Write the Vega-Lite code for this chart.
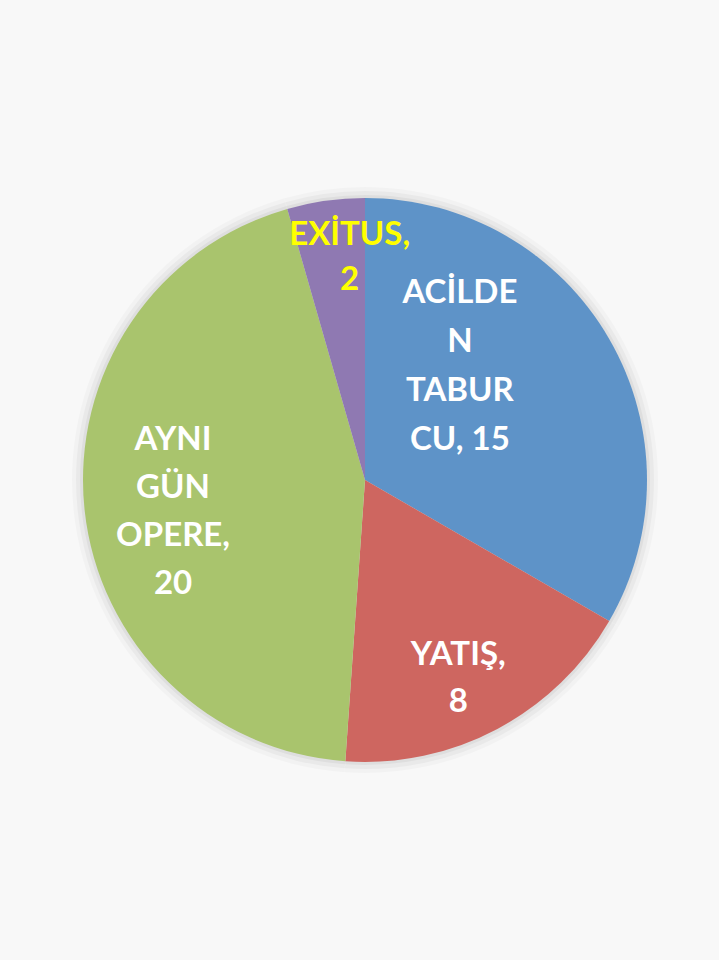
{
  "$schema": "https://vega.github.io/schema/vega-lite/v6.json",
  "autosize": {"type": "fit", "contains": "padding"},
  "width": 719,
  "height": 960,
  "padding": {"left": 11, "right": 0, "top": 0, "bottom": 0},
  "background": "#f8f8f8",
  "config": {"view": {"stroke": null}},
  "data": {
    "values": [
      {"sira": 1, "kategori": "ACİLDEN TABURCU", "sayi": 15, "etiket": "ACİLDE\nN\nTABUR\nCU, 15"},
      {"sira": 2, "kategori": "YATIŞ", "sayi": 8, "etiket": "YATIŞ,\n8"},
      {"sira": 3, "kategori": "AYNI GÜN OPERE", "sayi": 20, "etiket": "AYNI\nGÜN\nOPERE,\n20"},
      {"sira": 4, "kategori": "EXİTUS", "sayi": 2, "etiket": "EXİTUS,\n2"}
    ]
  },
  "encoding": {
    "theta": {"field": "sayi", "type": "quantitative", "stack": true},
    "order": {"field": "sira", "type": "quantitative", "sort": "ascending"}
  },
  "layer": [
    {
      "mark": {"type": "arc", "radius": 293, "color": "#000000", "opacity": 0.025}
    },
    {
      "mark": {"type": "arc", "radius": 289, "color": "#000000", "opacity": 0.035}
    },
    {
      "mark": {"type": "arc", "radius": 285, "color": "#000000", "opacity": 0.045}
    },
    {
      "mark": {"type": "arc", "radius": 282},
      "encoding": {
        "color": {
          "field": "kategori",
          "type": "nominal",
          "scale": {
            "domain": ["ACİLDEN TABURCU", "YATIŞ", "AYNI GÜN OPERE", "EXİTUS"],
            "range": ["#5E93C8", "#CE6660", "#A9C46D", "#8F79B2"]
          },
          "legend": null
        }
      }
    },
    {
      "mark": {"type": "text", "radius": 150, "dx": -35, "dy": -112, "font": "Lato", "fontWeight": "bold", "fontSize": 33, "lineHeight": 49, "lineBreak": "\n", "fill": "#ffffff", "align": "center", "baseline": "middle"},
      "encoding": {
        "text": {"condition": {"test": "datum.kategori === 'ACİLDEN TABURCU'", "field": "etiket"}, "value": ""}
      }
    },
    {
      "mark": {"type": "text", "radius": 220, "dx": -10, "dy": -19, "font": "Lato", "fontWeight": "bold", "fontSize": 33, "lineHeight": 47, "lineBreak": "\n", "fill": "#ffffff", "align": "center", "baseline": "middle"},
      "encoding": {
        "text": {"condition": {"test": "datum.kategori === 'YATIŞ'", "field": "etiket"}, "value": ""}
      }
    },
    {
      "mark": {"type": "text", "radius": 193, "dx": 0, "dy": -60, "font": "Lato", "fontWeight": "bold", "fontSize": 33, "lineHeight": 48, "lineBreak": "\n", "fill": "#ffffff", "align": "center", "baseline": "middle"},
      "encoding": {
        "text": {"condition": {"test": "datum.kategori === 'AYNI GÜN OPERE'", "field": "etiket"}, "value": ""}
      }
    },
    {
      "mark": {"type": "text", "radius": 225, "dx": 16, "dy": -22, "font": "Lato", "fontWeight": "bold", "fontSize": 33, "lineHeight": 45, "lineBreak": "\n", "fill": "#FFFF00", "align": "center", "baseline": "middle"},
      "encoding": {
        "text": {"condition": {"test": "datum.kategori === 'EXİTUS'", "field": "etiket"}, "value": ""}
      }
    }
  ]
}
